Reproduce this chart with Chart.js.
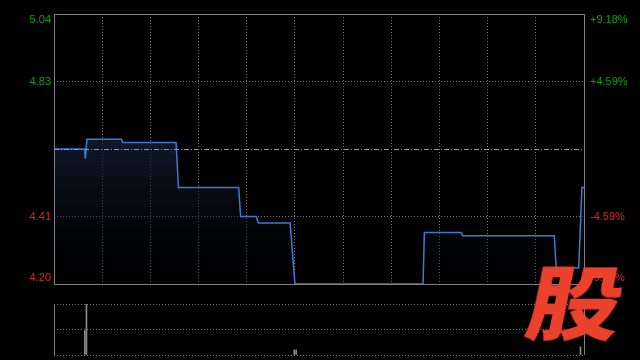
<!DOCTYPE html>
<html>
<head>
<meta charset="utf-8">
<style>
  html, body { margin: 0; padding: 0; background: #000; }
  .wrap { position: relative; width: 640px; height: 360px; overflow: hidden; }
  #priceChart { position: absolute; left: 0; top: 0; }
  #volChart { position: absolute; left: 0; top: 290px; }
  .logo {
    position: absolute; left: 538px; top: 259px;
    font-family: "Noto Sans CJK SC", sans-serif; font-weight: 900;
    font-size: 84px; line-height: 1; color: #ec422c;
    transform: scale(1.12, 0.95) skewX(-10deg); transform-origin: left top;
  }
</style>
</head>
<body>
<div class="wrap">
  <canvas id="priceChart" width="640" height="300"></canvas>
  <canvas id="volChart" width="640" height="70"></canvas>
  <div class="logo">股</div>
</div>

<script src="https://cdn.jsdelivr.net/npm/chart.js"></script>
<script>
  // intraday minutes (0 = 9:30, 330 = 16:00, lunch break removed)
  const minutes = [0, 19, 19.5, 20.5, 42, 42.8, 76, 77.5, 115, 116.2, 126, 127.2, 147, 150, 229.8, 230.6, 253.6, 254.5, 311.5, 312.7, 326.7, 328.7, 330];
  const prices  = [4.62, 4.62, 4.59, 4.65, 4.65, 4.64, 4.64, 4.50, 4.50, 4.41, 4.41, 4.39, 4.39, 4.20, 4.20, 4.36, 4.36, 4.35, 4.35, 4.25, 4.25, 4.50, 4.50];

  const prevClose = 4.62;
  const priceTicks = [4.20, 4.41, 4.62, 4.83, 5.04];
  const leftLabels  = ['4.20', '4.41', '', '4.83', '5.04'];
  const rightLabels = ['-9.18%', '-4.59%', '', '+4.59%', '+9.18%'];
  const timeTicks = [0, 30, 60, 90, 120, 150, 180, 210, 240, 270, 300, 330];

  const volMinutes = [19.2, 20.2, 149.6, 150.8, 327.8];
  const volValues  = [48, 100, 10, 10, 16];
  const volTicks = [0, 50, 100];

  const GREEN = '#0ea10e';
  const RED = '#e0201a';
  const GRID = '#7a7a7a';

  // labels, frame and previous close line
  const priceDecor = {
    id: 'priceDecor',
    afterDraw(chart) {
      const { ctx, chartArea: a, scales: { y } } = chart;
      ctx.save();
      // previous close dash-dot
      const yc = Math.round(y.getPixelForValue(prevClose)) + 0.5;
      ctx.strokeStyle = '#9a9a9a';
      ctx.lineWidth = 1;
      ctx.setLineDash([5, 2, 1, 2]);
      ctx.beginPath(); ctx.moveTo(a.left, yc); ctx.lineTo(a.right, yc); ctx.stroke();
      ctx.setLineDash([]);
      // frame
      ctx.strokeStyle = '#808080';
      ctx.strokeRect(Math.round(a.left) + 0.5, Math.round(a.top) + 0.5, Math.round(a.right - a.left), Math.round(a.bottom - a.top));
      // labels
      ctx.font = '11px "Liberation Sans", Arial, sans-serif';
      ctx.textBaseline = 'middle';
      priceTicks.forEach((v, i) => {
        if (!leftLabels[i]) return;
        let py = y.getPixelForValue(v);
        if (i === priceTicks.length - 1) py += 6;
        if (i === 0) py -= 6;
        ctx.fillStyle = v > prevClose ? GREEN : RED;
        ctx.textAlign = 'right';
        ctx.fillText(leftLabels[i], a.left - 3, py);
        ctx.textAlign = 'left';
        ctx.fillText(rightLabels[i], a.right + 6, py);
      });
      ctx.restore();
    }
  };

  new Chart(document.getElementById('priceChart'), {
    type: 'line',
    data: {
      datasets: [{
        data: minutes.map((m, i) => ({ x: m, y: prices[i] })),
        borderColor: '#3d7ad6',
        borderWidth: 1.5,
        pointRadius: 0,
        tension: 0,
        fill: 'start',
        backgroundColor(context) {
          const area = context.chart.chartArea;
          if (!area) return 'rgba(0,0,0,0)';
          const g = context.chart.ctx.createLinearGradient(0, area.top + 120, 0, area.bottom);
          g.addColorStop(0, 'rgba(20,32,58,0.8)');
          g.addColorStop(1, 'rgba(0,0,0,0.2)');
          return g;
        }
      }]
    },
    options: {
      responsive: false,
      animation: false,
      events: [],
      layout: { padding: { left: 54, right: 56, top: 14, bottom: 16 } },
      plugins: { legend: { display: false }, tooltip: { enabled: false } },
      scales: {
        x: {
          type: 'linear', min: 0, max: 330,
          afterBuildTicks(s) { s.ticks = timeTicks.map(v => ({ value: v })); },
          ticks: { display: false },
          grid: {
            color: c => (c.tick.value === 0 || c.tick.value === 330) ? 'rgba(0,0,0,0)' : GRID,
            lineWidth: 1, drawTicks: false
          },
          border: { display: false, dash: [1, 2] }
        },
        y: {
          min: 4.20, max: 5.04,
          afterBuildTicks(s) { s.ticks = priceTicks.map(v => ({ value: v })); },
          ticks: { display: false },
          grid: {
            color: c => (c.tick.value === prevClose || c.tick.value === 4.20 || c.tick.value === 5.04) ? 'rgba(0,0,0,0)' : GRID,
            lineWidth: 1, drawTicks: false
          },
          border: { display: false, dash: [1, 2] }
        }
      }
    },
    plugins: [priceDecor]
  });

  const volFrame = {
    id: 'volFrame',
    afterDraw(chart) {
      const { ctx, chartArea: a } = chart;
      ctx.save();
      ctx.strokeStyle = '#808080';
      ctx.lineWidth = 1;
      ctx.beginPath();
      ctx.moveTo(Math.round(a.left) + 0.5, a.top); ctx.lineTo(Math.round(a.left) + 0.5, a.bottom);
      ctx.moveTo(Math.round(a.right) + 0.5, a.top); ctx.lineTo(Math.round(a.right) + 0.5, a.bottom);
      ctx.stroke();
      ctx.restore();
    }
  };

  new Chart(document.getElementById('volChart'), {
    type: 'bar',
    data: {
      datasets: [{
        data: volMinutes.map((m, i) => ({ x: m, y: volValues[i] })),
        backgroundColor: '#8a8a8a',
        barThickness: 1,
        borderWidth: 0
      }]
    },
    options: {
      responsive: false,
      animation: false,
      events: [],
      layout: { padding: { left: 54, right: 56, top: 14, bottom: 5 } },
      plugins: { legend: { display: false }, tooltip: { enabled: false } },
      scales: {
        x: {
          type: 'linear', min: 0, max: 330, offset: false,
          ticks: { display: false },
          grid: { display: false, drawTicks: false },
          border: { display: false }
        },
        y: {
          min: 0, max: 100,
          afterBuildTicks(s) { s.ticks = volTicks.map(v => ({ value: v })); },
          ticks: { display: false },
          grid: { color: GRID, lineWidth: 1, drawTicks: false },
          border: { display: false, dash: [1, 2] }
        }
      }
    },
    plugins: [volFrame]
  });
</script>
</body>
</html>
